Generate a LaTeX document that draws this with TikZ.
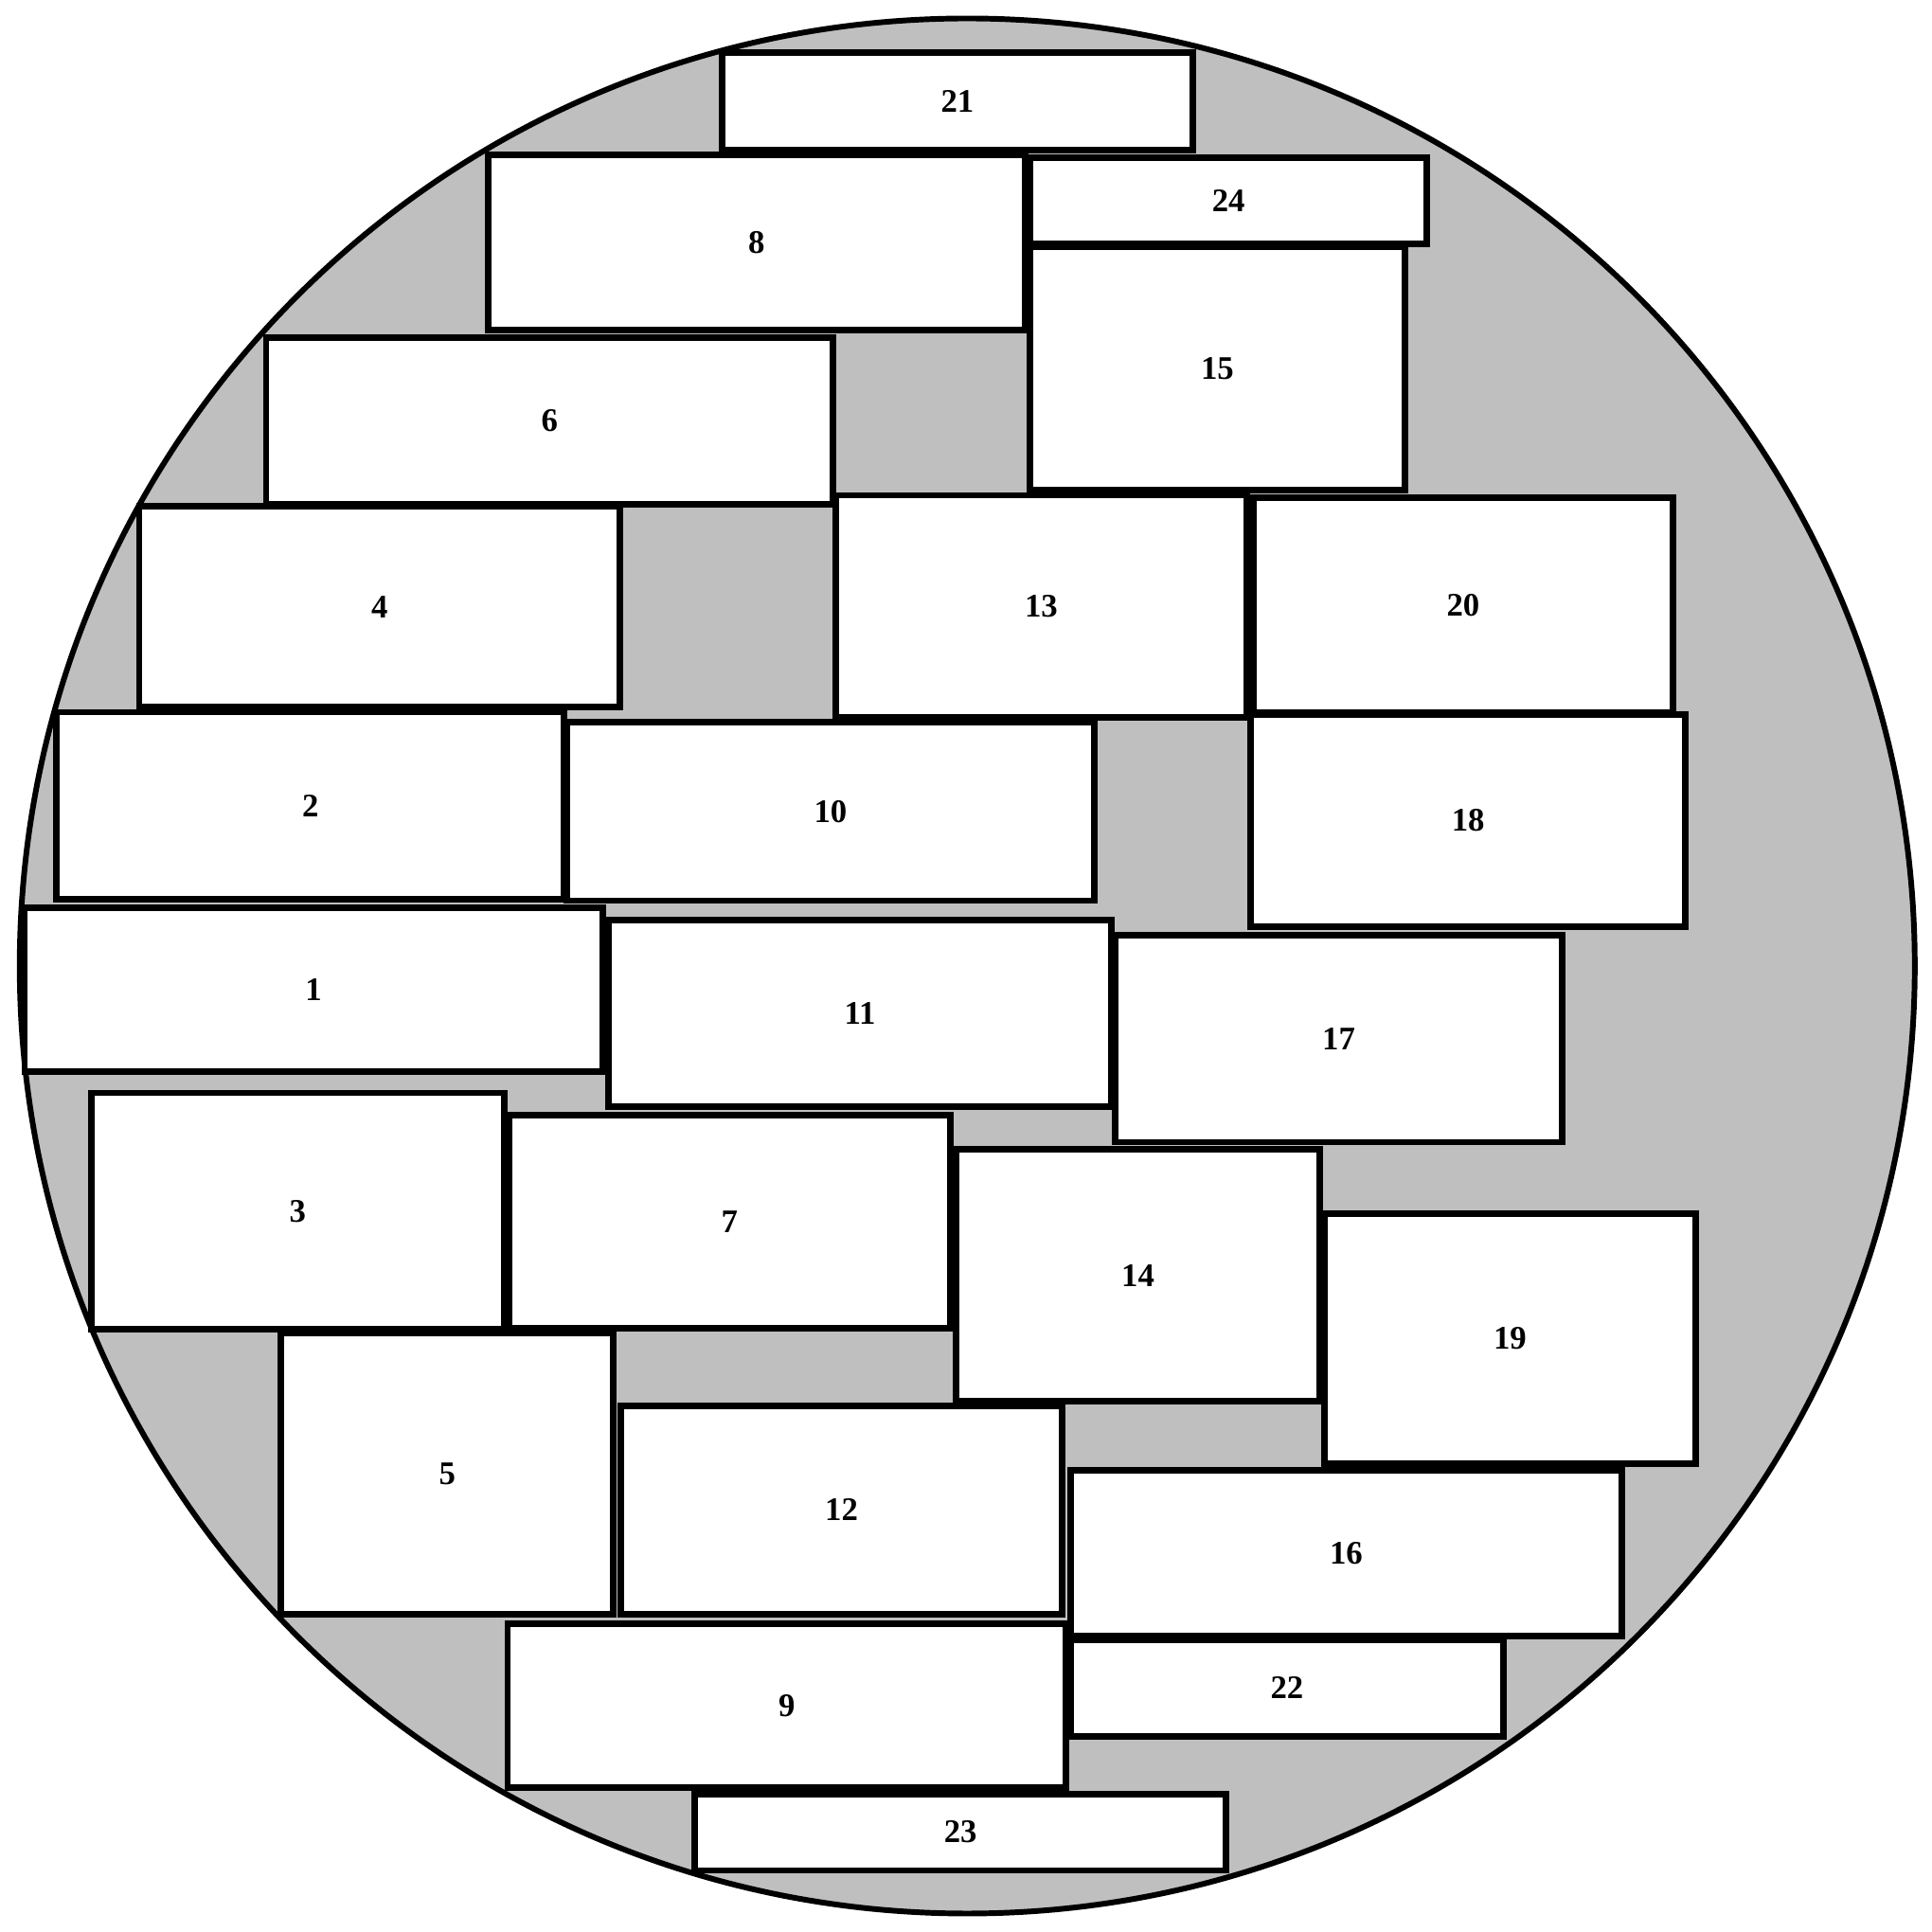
\documentclass[tikz,border=0pt]{standalone}
\usepackage{fontspec}
\setmainfont{Liberation Serif}
\begin{document}
\begin{tikzpicture}[every node/.style={font=\fontsize{7.6}{9}\selectfont\bfseries},
  brick/.style={draw,fill=white,line width=1.5pt,inner sep=0pt}]
\useasboundingbox (0,0) rectangle (15.68,15.68);
\draw[fill=black!25,line width=1.3pt] (7.85,7.84) circle (7.69);
% top rows
\node[brick,minimum width=3.82cm,minimum height=0.79cm] (b21) at (7.77,14.855) {21};
\node[brick,minimum width=4.36cm,minimum height=1.42cm] (b8) at (6.14,13.71) {8};
\node[brick,minimum width=3.22cm,minimum height=0.70cm] (b24) at (9.97,14.05) {24};
\node[brick,minimum width=3.04cm,minimum height=1.98cm] (b15) at (9.88,12.69) {15};
\node[brick,minimum width=4.60cm,minimum height=1.35cm] (b6) at (4.46,12.265) {6};
\node[brick,minimum width=3.90cm,minimum height=1.63cm] (b4) at (3.08,10.755) {4};
\node[brick,minimum width=3.34cm,minimum height=1.80cm] (b13) at (8.45,10.76) {13};
\node[brick,minimum width=3.41cm,minimum height=1.74cm] (b20) at (11.875,10.77) {20};
% middle rows
\node[brick,minimum width=4.12cm,minimum height=1.52cm] (b2) at (2.52,9.14) {2};
\node[brick,minimum width=4.28cm,minimum height=1.45cm] (b10) at (6.74,9.095) {10};
\node[brick,minimum width=3.53cm,minimum height=1.72cm] (b18) at (11.915,9.02) {18};
\node[brick,minimum width=4.69cm,minimum height=1.33cm] (b1) at (2.545,7.645) {1};
\node[brick,minimum width=4.08cm,minimum height=1.51cm] (b11) at (6.98,7.455) {11};
\node[brick,minimum width=3.63cm,minimum height=1.68cm] (b17) at (10.865,7.25) {17};
\node[brick,minimum width=3.35cm,minimum height=1.92cm] (b3) at (2.415,5.85) {3};
\node[brick,minimum width=3.58cm,minimum height=1.73cm] (b7) at (5.92,5.765) {7};
\node[brick,minimum width=2.95cm,minimum height=2.04cm] (b14) at (9.235,5.33) {14};
\node[brick,minimum width=3.01cm,minimum height=2.03cm] (b19) at (12.255,4.815) {19};
% bottom rows
\node[brick,minimum width=2.70cm,minimum height=2.28cm] (b5) at (3.63,3.72) {5};
\node[brick,minimum width=3.58cm,minimum height=1.69cm] (b12) at (6.83,3.425) {12};
\node[brick,minimum width=4.47cm,minimum height=1.35cm] (b16) at (10.925,3.075) {16};
\node[brick,minimum width=4.53cm,minimum height=1.33cm] (b9) at (6.385,1.835) {9};
\node[brick,minimum width=3.51cm,minimum height=0.78cm] (b22) at (10.445,1.98) {22};
\node[brick,minimum width=4.31cm,minimum height=0.62cm] (b23) at (7.795,0.81) {23};
\end{tikzpicture}
\end{document}
